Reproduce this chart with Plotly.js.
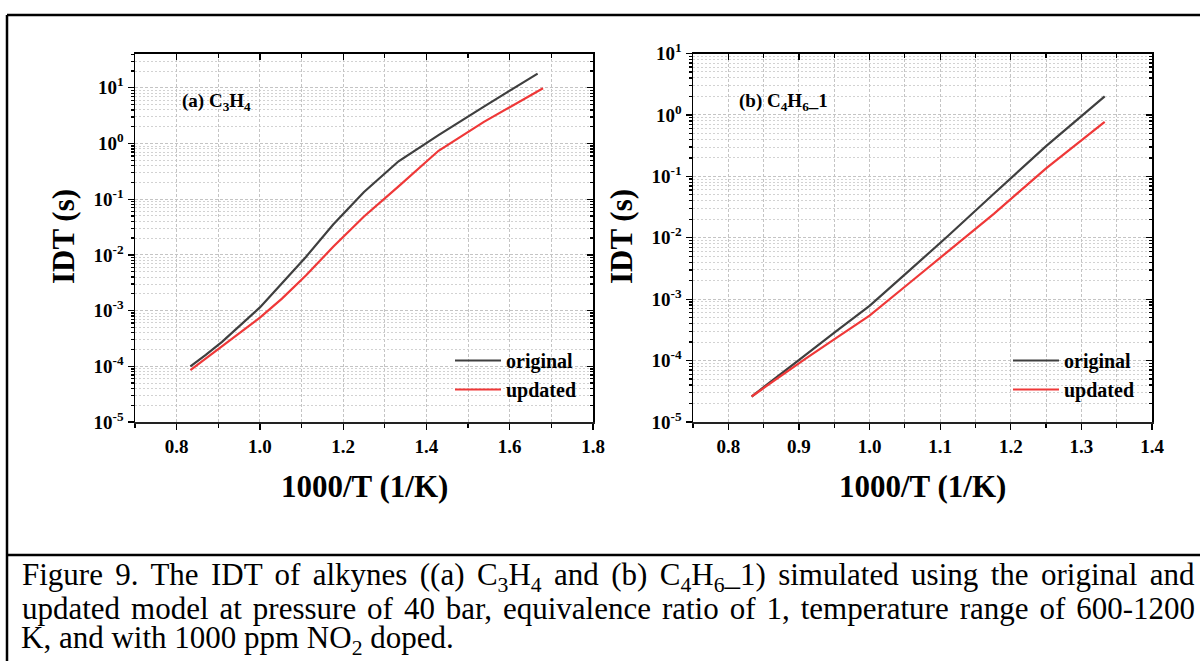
<!DOCTYPE html>
<html>
<head>
<meta charset="utf-8">
<script src="https://cdn.plot.ly/plotly-3.0.1.min.js"></script>
<style>
html,body{margin:0;padding:0;background:#fff;}
#chart{width:1200px;height:661px;}
</style>
</head>
<body>
<div id="chart"></div>
<script>
// ---- data ----
// (a) C3H4
const xA_orig = [0.833, 0.870, 0.909, 0.952, 1.000, 1.053, 1.111, 1.176, 1.250, 1.333, 1.429, 1.538, 1.667];
const yA_orig = [1.0e-4, 1.6e-4, 2.75e-4, 5.3e-4, 1.14e-3, 3.1e-3, 9.3e-3, 0.035, 0.135, 0.48, 1.41, 4.6, 18];
const xA_upd  = [0.833, 0.870, 0.909, 0.952, 1.000, 1.053, 1.111, 1.176, 1.250, 1.333, 1.429, 1.538, 1.680];
const yA_upd  = [8.5e-5, 1.38e-4, 2.3e-4, 4.0e-4, 7.5e-4, 1.64e-3, 4.3e-3, 0.014, 0.049, 0.17, 0.74, 2.45, 9.8];
// (b) C4H6_1
const xB_orig = [0.833, 0.870, 0.909, 0.952, 1.000, 1.053, 1.111, 1.176, 1.250, 1.333];
const yB_orig = [2.6e-5, 5.6e-5, 1.23e-4, 2.95e-4, 7.8e-4, 2.7e-3, 0.0107, 0.052, 0.31, 2.0];
const xB_upd  = [0.833, 0.870, 0.909, 0.952, 1.000, 1.053, 1.111, 1.176, 1.250, 1.333];
const yB_upd  = [2.6e-5, 5.2e-5, 1.07e-4, 2.3e-4, 5.4e-4, 1.7e-3, 6.0e-3, 0.0245, 0.135, 0.77];

const seriesNames = ['original', 'updated'];
const panelLabels = ['(a) C<sub>3</sub>H<sub>4</sub>', '(b) C<sub>4</sub>H<sub>6</sub>_1'];
const xTitle = '1000/T (1/K)';
const yTitle = 'IDT (s)';
const xTicksA = [0.8, 1.0, 1.2, 1.4, 1.6, 1.8];
const xTickTextA = ['0.8', '1.0', '1.2', '1.4', '1.6', '1.8'];
const xTicksB = [0.8, 0.9, 1.0, 1.1, 1.2, 1.3, 1.4];
const xTickTextB = ['0.8', '0.9', '1.0', '1.1', '1.2', '1.3', '1.4'];
const yTickVals = [1e-5, 1e-4, 1e-3, 1e-2, 1e-1, 1, 10];
const yTickText = ['10<sup>-5</sup>', '10<sup>-4</sup>', '10<sup>-3</sup>', '10<sup>-2</sup>', '10<sup>-1</sup>', '10<sup>0</sup>', '10<sup>1</sup>'];
const captionLines = [
  'Figure 9. The IDT of alkynes ((a) C<sub>3</sub>H<sub>4</sub> and (b) C<sub>4</sub>H<sub>6</sub>_1) simulated using the original and',
  'updated model at pressure of 40 bar, equivalence ratio of 1, temperature range of 600-1200',
  'K, and with 1000 ppm NO<sub>2</sub> doped.'
];

// ---- styling ----
const W = 1200, H = 661;
const px = v => v / W;
const py = v => 1 - v / H;
const colOrig = '#3f3f3f';
const colUpd = '#ef3838';
const serif = 'Liberation Serif, Times New Roman, serif';
const tickFont = {family: serif, size: 19, color: '#000', weight: 'bold'};
const gridCol = '#c4c4c4';

// minor tick helpers (tick positions only)
function logMinor(lo, hi) {
  const out = [];
  for (let e = lo; e < hi; e++) for (let m = 2; m <= 9; m++) out.push(m * Math.pow(10, e));
  return out;
}
function linMinor(a, b, step) {
  const out = []; const n = Math.round((b - a) / step);
  for (let i = 0; i <= n; i++) out.push(+(a + i * step).toFixed(4));
  return out;
}
const yMinor = logMinor(-5, 2);

const domXA = [px(135), px(593)];
const domXB = [px(693), px(1152)];
const domY = [py(422), py(53.5)];

function xAxis(domain, range, tv, tt, minorVals, anchor) {
  return {
    domain: domain, range: range, anchor: anchor,
    tickmode: 'array', tickvals: tv, ticktext: tt,
    ticks: 'outside', ticklen: 6, tickwidth: 1.3, tickcolor: '#000',
    tickfont: tickFont,
    showline: true, linecolor: '#222', linewidth: 1.8,
    showgrid: true, gridcolor: gridCol, griddash: '3px,2px', gridwidth: 1,
    minor: {tickmode: 'array', tickvals: minorVals, ticks: 'outside', ticklen: 4, tickcolor: '#000',
            showgrid: true, gridcolor: gridCol, griddash: '3px,2px', gridwidth: 1},
    zeroline: false, fixedrange: true
  };
}
function yAxis(range, anchor) {
  return {
    domain: domY, type: 'log', range: range, anchor: anchor,
    tickmode: 'array', tickvals: yTickVals, ticktext: yTickText,
    ticks: 'outside', ticklen: 6, tickwidth: 1.3, tickcolor: '#000',
    tickfont: tickFont,
    showline: true, linecolor: '#000', linewidth: 1.5,
    showgrid: true, gridcolor: gridCol, griddash: '3px,2px', gridwidth: 1,
    minor: {tickmode: 'array', tickvals: yMinor, ticks: 'outside', ticklen: 3, tickcolor: '#000',
            showgrid: true, gridcolor: '#d2d2d2', griddash: '2px,2px', gridwidth: 1},
    zeroline: false, fixedrange: true
  };
}
function mirrorX(overlay, range, tv, minorVals, anchor) {
  return {
    overlaying: overlay, side: 'top', anchor: anchor, range: range,
    tickmode: 'array', tickvals: tv, ticks: 'inside', ticklen: 6, tickwidth: 1.3, tickcolor: '#000',
    showticklabels: false, showgrid: false, showline: true, linecolor: '#000', linewidth: 1.5,
    minor: {tickmode: 'array', tickvals: minorVals, ticks: 'inside', ticklen: 4, tickcolor: '#000', showgrid: false},
    zeroline: false, fixedrange: true
  };
}
function mirrorY(overlay, range, anchor) {
  return {
    overlaying: overlay, side: 'right', anchor: anchor, type: 'log', range: range,
    tickmode: 'array', tickvals: yTickVals, ticks: 'inside', ticklen: 6, tickwidth: 1.3, tickcolor: '#000',
    showticklabels: false, showgrid: false, showline: true, linecolor: '#000', linewidth: 1.5,
    minor: {tickmode: 'array', tickvals: yMinor, ticks: 'inside', ticklen: 3, tickcolor: '#000', showgrid: false},
    zeroline: false, fixedrange: true
  };
}

const rangeXA = [0.7, 1.8], rangeXB = [0.75, 1.4];
const rangeYA = [-5, 1.616], rangeYB = [-5, 1];
const minorXA = linMinor(0.7, 1.8, 0.1);
const minorXB = linMinor(0.75, 1.4, 0.05);

const traces = [
  {x: xA_orig, y: yA_orig, name: seriesNames[0], mode: 'lines', line: {color: colOrig, width: 2.2}, xaxis: 'x', yaxis: 'y', legend: 'legend'},
  {x: xA_upd,  y: yA_upd,  name: seriesNames[1], mode: 'lines', line: {color: colUpd,  width: 2.2}, xaxis: 'x', yaxis: 'y', legend: 'legend'},
  {x: xB_orig, y: yB_orig, name: seriesNames[0], mode: 'lines', line: {color: colOrig, width: 2.2}, xaxis: 'x2', yaxis: 'y2', legend: 'legend2'},
  {x: xB_upd,  y: yB_upd,  name: seriesNames[1], mode: 'lines', line: {color: colUpd,  width: 2.2}, xaxis: 'x2', yaxis: 'y2', legend: 'legend2'},
  // empty helper traces so the mirrored frame axes get drawn
  {x: [], y: [], xaxis: 'x3', yaxis: 'y', showlegend: false, hoverinfo: 'skip'},
  {x: [], y: [], xaxis: 'x', yaxis: 'y3', showlegend: false, hoverinfo: 'skip'},
  {x: [], y: [], xaxis: 'x4', yaxis: 'y2', showlegend: false, hoverinfo: 'skip'},
  {x: [], y: [], xaxis: 'x2', yaxis: 'y4', showlegend: false, hoverinfo: 'skip'}
];

const legendFont = {family: serif, size: 20, color: '#000', weight: 'bold'};
const annFont = {family: serif, size: 19, color: '#000', weight: 'bold'};
const titleFont = {family: serif, size: 31, color: '#000', weight: 'bold'};
const capFont = {family: serif, size: 31, color: '#000'};

const annotations = [
  {text: panelLabels[0], x: px(180), y: py(102), xref: 'paper', yref: 'paper', xanchor: 'left', yanchor: 'middle', showarrow: false, font: annFont},
  {text: panelLabels[1], x: px(737), y: py(102), xref: 'paper', yref: 'paper', xanchor: 'left', yanchor: 'middle', showarrow: false, font: annFont},
  {text: yTitle, x: px(64), y: py(237), xref: 'paper', yref: 'paper', xanchor: 'center', yanchor: 'middle', textangle: -90, showarrow: false, font: titleFont},
  {text: yTitle, x: px(622), y: py(237), xref: 'paper', yref: 'paper', xanchor: 'center', yanchor: 'middle', textangle: -90, showarrow: false, font: titleFont},
  {text: xTitle, x: px(364), y: py(486), xref: 'paper', yref: 'paper', xanchor: 'center', yanchor: 'middle', showarrow: false, font: titleFont},
  {text: xTitle, x: px(922), y: py(486), xref: 'paper', yref: 'paper', xanchor: 'center', yanchor: 'middle', showarrow: false, font: titleFont}
];
const capY = [577, 608.5, 639.5];
captionLines.forEach((t, i) => annotations.push({
  text: t, x: px(19), y: py(capY[i]), xref: 'paper', yref: 'paper', xanchor: 'left', yanchor: 'middle', showarrow: false, font: capFont
}));

const frameLine = {color: '#000', width: 2.5};
const shapes = [
  {type: 'line', xref: 'paper', yref: 'paper', x0: px(7), x1: 1, y0: py(15), y1: py(15), line: frameLine},
  {type: 'line', xref: 'paper', yref: 'paper', x0: px(7), x1: px(7), y0: 0, y1: py(15), line: frameLine},
  {type: 'line', xref: 'paper', yref: 'paper', x0: px(7), x1: 1, y0: py(555), y1: py(555), line: frameLine}
];

const layout = {
  width: W, height: H,
  margin: {l: 0, r: 0, t: 0, b: 0},
  paper_bgcolor: '#fff', plot_bgcolor: '#fff',
  showlegend: true,
  xaxis: xAxis(domXA, rangeXA, xTicksA, xTickTextA, minorXA, 'y'),
  yaxis: yAxis(rangeYA, 'x'),
  xaxis2: xAxis(domXB, rangeXB, xTicksB, xTickTextB, minorXB, 'y2'),
  yaxis2: yAxis(rangeYB, 'x2'),
  xaxis3: mirrorX('x', rangeXA, xTicksA, minorXA, 'y'),
  yaxis3: mirrorY('y', rangeYA, 'x'),
  xaxis4: mirrorX('x2', rangeXB, xTicksB, minorXB, 'y2'),
  yaxis4: mirrorY('y2', rangeYB, 'x2'),
  legend: {x: px(450), y: py(341), xanchor: 'left', yanchor: 'top', bgcolor: 'rgba(0,0,0,0)', font: legendFont, itemwidth: 46, tracegroupgap: 0},
  legend2: {x: px(1008), y: py(341), xanchor: 'left', yanchor: 'top', bgcolor: 'rgba(0,0,0,0)', font: legendFont, itemwidth: 46, tracegroupgap: 0},
  annotations: annotations,
  shapes: shapes
};

Plotly.newPlot('chart', traces, layout, {staticPlot: true, displayModeBar: false}).then(gd => {
  // justify the first two caption lines (as in the original typeset caption)
  const targetLeft = 22, targetRight = 1195;
  const gdBox = gd.getBoundingClientRect();
  gd.querySelectorAll('.annotation-text').forEach(el => {
    const t = el.textContent;
    if (t.startsWith('Figure 9') || t.startsWith('updated model')) {
      const b0 = el.getBoundingClientRect();
      const spaces = (t.match(/ /g) || []).length;
      const width = b0.right - b0.left;
      const need = (targetRight - targetLeft) - width;
      if (spaces > 0 && need > 0) {
        el.style.wordSpacing = (need / spaces).toFixed(2) + 'px';
      }
      const b1 = el.getBoundingClientRect();
      const dx = (targetLeft + gdBox.left) - b1.left;
      el.setAttribute('x', (parseFloat(el.getAttribute('x') || '0') + dx).toFixed(2));
    }
  });
});
</script>
</body>
</html>
